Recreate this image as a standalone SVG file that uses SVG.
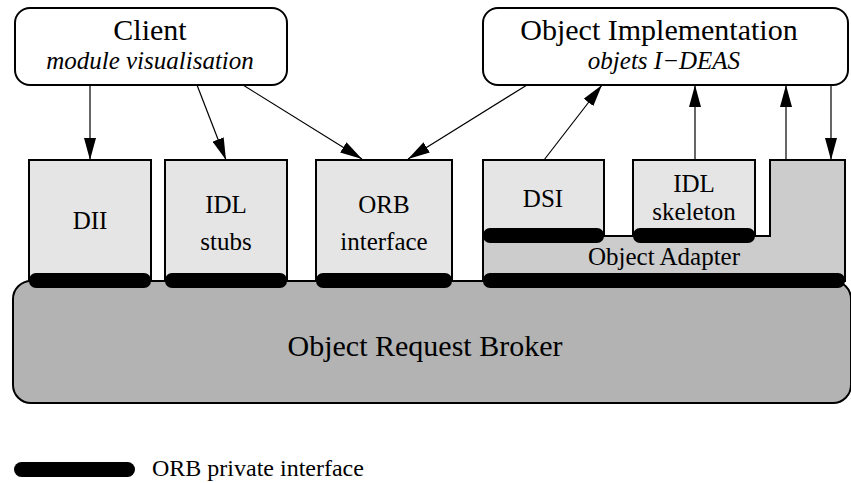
<svg xmlns="http://www.w3.org/2000/svg" width="851" height="483" viewBox="0 0 851 483" font-family="Liberation Serif, DejaVu Serif, serif">
<style>
text{font-family:"Liberation Serif", "DejaVu Serif", serif}
.t{fill:#000;text-anchor:middle}
.big{font-size:30px}
.mid{font-size:25px}
.it{font-style:italic;font-size:25px}
.box{fill:#e5e5e5;stroke:#000;stroke-width:2}
.bar{fill:#000}
.conn line{stroke:#000;stroke-width:1.2;marker-end:url(#ah)}
</style>
<defs>
<marker id="ah" viewBox="0 0 22 12" refX="22" refY="6" markerWidth="22" markerHeight="12" markerUnits="userSpaceOnUse" orient="auto">
<path d="M0,0 L22,6 L0,12 Z" fill="#000"/>
</marker>
</defs>
<rect width="851" height="483" fill="#fff"/>

<g id="orb">
<rect x="13" y="281" width="838" height="122" rx="18" fill="#b3b3b3" stroke="#000" stroke-width="2"/>
<text class="t big" x="425" y="356">Object Request Broker</text>
</g>

<g id="client">
<rect x="15" y="8" width="272" height="77" rx="15" fill="#fff" stroke="#000" stroke-width="2"/>
<text class="t big" x="150" y="40">Client</text>
<text class="t it" x="150" y="69">module visualisation</text>
</g>

<g id="impl">
<rect x="483" y="8" width="365" height="77" rx="15" fill="#fff" stroke="#000" stroke-width="2"/>
<text class="t big" x="659" y="40">Object Implementation</text>
<text class="t it" x="664" y="69">objets I−DEAS</text>
</g>

<g id="dii">
<rect class="box" x="29" y="160" width="122" height="121"/>
<rect class="bar" x="29" y="273" width="122" height="15" rx="7"/>
<text class="t mid" x="90" y="229">DII</text>
</g>

<g id="stubs">
<rect class="box" x="165" y="160" width="122" height="121"/>
<rect class="bar" x="165" y="273" width="122" height="15" rx="7"/>
<text class="t mid" x="226" y="213">IDL</text>
<text class="t mid" x="226" y="250">stubs</text>
</g>

<g id="orbif">
<rect class="box" x="316" y="160" width="136" height="121"/>
<rect class="bar" x="316" y="273" width="136" height="15" rx="7"/>
<text class="t mid" x="384" y="213">ORB</text>
<text class="t mid" x="384" y="250">interface</text>
</g>

<g id="adapter">
<path d="M483,281 L483,236 L770,236 L770,160 L845,160 L845,281 Z" fill="#ccc" stroke="#000" stroke-width="2"/>
<rect class="bar" x="483" y="273" width="362" height="15" rx="7"/>
<text class="t mid" x="664" y="265">Object Adapter</text>
</g>

<g id="dsi">
<rect class="box" x="483" y="160" width="121" height="76"/>
<rect class="bar" x="483" y="228" width="121" height="15" rx="7"/>
<text class="t mid" x="543" y="207">DSI</text>
</g>

<g id="skeleton">
<rect class="box" x="633" y="160" width="122" height="76"/>
<rect class="bar" x="633" y="228" width="122" height="15" rx="7"/>
<text class="t mid" x="694" y="192">IDL</text>
<text class="t mid" x="694" y="220">skeleton</text>
</g>

<g id="legend">
<rect class="bar" x="14" y="462" width="121" height="15" rx="7.5"/>
<text x="152" y="476" font-size="24" fill="#000">ORB private interface</text>
</g>

<g id="connectors" class="conn">
<line x1="90" y1="85" x2="90" y2="160"/>
<line x1="197" y1="85" x2="226" y2="160"/>
<line x1="243" y1="85" x2="362" y2="159"/>
<line x1="527" y1="85" x2="408" y2="159"/>
<line x1="544" y1="160" x2="602" y2="85"/>
<line x1="695" y1="160" x2="695" y2="85"/>
<line x1="786" y1="160" x2="786" y2="85"/>
<line x1="831" y1="85" x2="831" y2="160"/>
</g>
</svg>
